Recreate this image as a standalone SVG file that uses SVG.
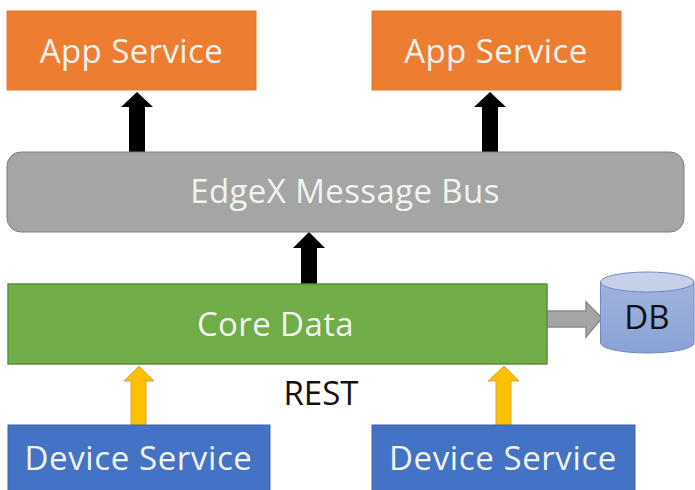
<svg xmlns="http://www.w3.org/2000/svg" width="695" height="490" viewBox="0 0 695 490">
<defs>
<linearGradient id="cyl" x1="0" y1="0" x2="0" y2="1"><stop offset="0" stop-color="#a0b3dc"/><stop offset="1" stop-color="#8aa2d6"/></linearGradient>
</defs>
<style>
text{font-family:"Open Sans","Noto Sans","Liberation Sans",sans-serif;text-anchor:middle;font-size:33px}
.w{fill:#f1f4ee;letter-spacing:.4px}
.k{fill:#111}
.app{fill:#ed7d31;stroke:#e8792f;stroke-width:1}
.dev{fill:#4472c4;stroke:#3a64ae;stroke-width:1}
</style>
<rect width="695" height="490" fill="#fff"/>
<g id="connectors">
<polygon fill="#000" points="129,152 129,107 121,107 137,92 153,107 145,107 145,152"/>
<polygon fill="#000" points="482,152 482,107 474,107 490,92 506,107 498,107 498,152"/>
<polygon fill="#000" points="301,284 301,248 293,248 309,232 325,248 317,248 317,284"/>
<polygon fill="#ffc000" stroke="#d9a441" points="131,426 131,381 124,381 139,366 154,381 146,381 146,426"/>
<polygon fill="#ffc000" stroke="#d9a441" points="496,426 496,381 488,381 504,366 519,381 511,381 511,426"/>
<polygon fill="#a5a5a5" stroke="#8a8a8a" stroke-width="1.500" points="547,311 586,311 586,302 602,318 586,337 586,327 547,327"/>
</g>
<g id="app1"><rect class="app" x="7" y="11" width="249" height="79"/><text class="w" x="131.500" y="63">App Service</text></g>
<g id="app2"><rect class="app" x="372" y="11" width="249" height="79"/><text class="w" x="496" y="63">App Service</text></g>
<g id="bus"><rect x="7" y="152" width="677" height="80" rx="14" fill="#a5a5a5" stroke="#7f7f7f" stroke-width="1"/><text class="w" x="345" y="203">EdgeX Message Bus</text></g>
<g id="core"><rect x="8" y="284" width="539" height="80" fill="#70ad47" stroke="#5b8f3a" stroke-width="1.500"/><text class="w" x="275.500" y="336">Core Data</text></g>
<g id="db">
<path d="M600.500 282V343A46.750 10 0 0 0 694 343V282Z" fill="url(#cyl)" stroke="#6f8bc4" stroke-width="1"/>
<ellipse cx="647.250" cy="282" rx="46.750" ry="10" fill="#c6d0e8" stroke="#6f8bc4" stroke-width="1"/>
<text class="k" x="647" y="329">DB</text>
</g>
<g id="rest"><text class="k" x="321" y="405">REST</text></g>
<g id="dev1"><rect class="dev" x="8" y="425" width="262" height="66"/><text class="w" x="138.500" y="470" style="letter-spacing:.6px">Device Service</text></g>
<g id="dev2"><rect class="dev" x="372" y="425" width="263" height="66"/><text class="w" x="503" y="470" style="letter-spacing:.6px">Device Service</text></g>
</svg>
